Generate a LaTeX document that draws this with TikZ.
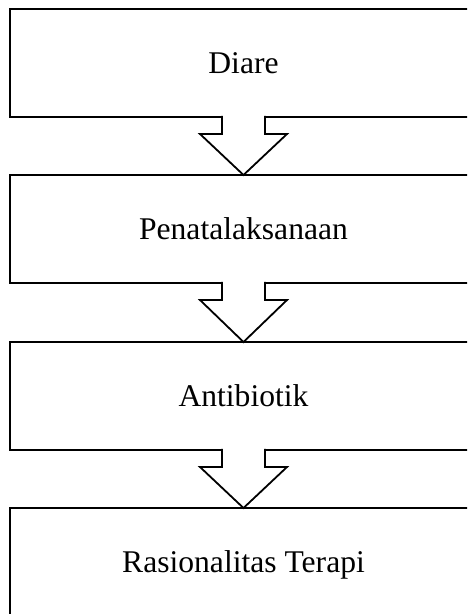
\documentclass[tikz,border=0pt]{standalone}
\usepackage{fontspec}
\setmainfont{Liberation Serif}
\usetikzlibrary{calc}
\tikzset{
  stepbox/.style={draw, line width=2.2pt, rectangle, minimum width=467pt, minimum height=108pt,
    inner sep=0pt, outer sep=0pt, text height=20.5pt, text depth=0pt,
    font=\fontsize{31.6}{38}\selectfont},
  arrline/.style={draw, line width=1.8pt, line join=miter},
}
\newcommand{\blockarr}[2]{%
  \path[fill=white] ($(#1.south)+(-21.5,-1.4)$) -- ($(#1.south)+(-21.5,17)$) -- ($(#1.south)+(-43.5,17)$)
    -- (#2.north) -- ($(#1.south)+(43.5,17)$) -- ($(#1.south)+(21.5,17)$) -- ($(#1.south)+(21.5,-1.4)$) -- cycle;
  \draw[arrline] ($(#1.south)+(-21.5,-1.1)$) -- ($(#1.south)+(-21.5,17)$) -- ($(#1.south)+(-43.5,17)$)
    -- (#2.north) -- ($(#1.south)+(43.5,17)$) -- ($(#1.south)+(21.5,17)$) -- ($(#1.south)+(21.5,-1.1)$);
}
\begin{document}
\begin{tikzpicture}[x=1pt,y=-1pt]
\useasboundingbox (0,0) rectangle (467,614);
\fill[white] (0,0) rectangle (467,614);
\clip (0,0) rectangle (467,614);
\node[stepbox] (b1) at (243.5,63) {Diare};
\node[stepbox] (b2) at (243.5,229) {Penatalaksanaan};
\node[stepbox] (b3) at (243.5,396) {Antibiotik};
\node[stepbox] (b4) at (243.5,562) {Rasionalitas Terapi};
\blockarr{b1}{b2}
\blockarr{b2}{b3}
\blockarr{b3}{b4}
\end{tikzpicture}
\end{document}
